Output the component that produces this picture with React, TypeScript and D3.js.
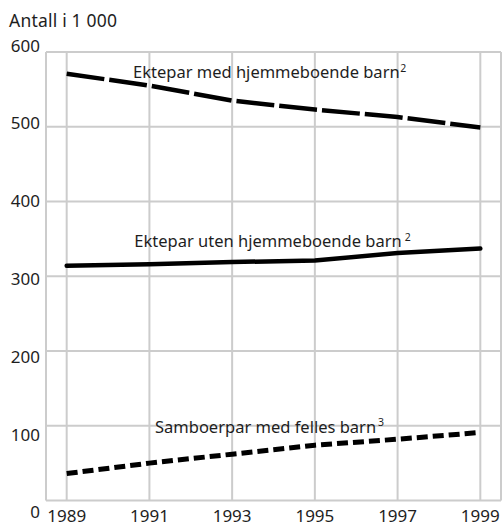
import React from "react";
import * as d3 from "d3";

const years = [1989, 1991, 1993, 1995, 1997, 1999];
const ekteparMed = [571, 555, 535, 523, 513, 499];
const ekteparUten = [314, 316, 319, 321, 331, 337];
const samboer = [36, 50, 62, 74, 82, 91];
const yTicks = [0, 100, 200, 300, 400, 500, 600];
const xTicks = [1989, 1991, 1993, 1995, 1997, 1999];
const yTitle = "Antall i 1 000";

const W = 504;
const H = 523;
const FONT = "'Noto Sans', 'Open Sans', sans-serif";

export default function App() {
  const x = d3.scaleLinear().domain([1988.5, 1999.5]).range([46, 501]);
  const y = d3.scaleLinear().domain([0, 600]).range([500.5, 52]);
  const yLab = d3.scaleLinear().domain([0, 600]).range([518.3, 51.7]);

  const line = d3
    .line<number>()
    .x((_, i) => x(years[i]))
    .y((d) => y(d))
    .curve(d3.curveLinear);

  const grid = "#cccccc";
  const ink = "#1e1e1e";

  return (
    <svg
      width={W}
      height={H}
      style={{ position: "absolute", left: 0, top: 0, background: "#fff" }}
      fontFamily={FONT}
    >
      {/* grid */}
      {yTicks.map((t) => (
        <line key={"h" + t} x1={x(1988.5)} x2={x(1999.5)} y1={y(t)} y2={y(t)} stroke={grid} strokeWidth={2} />
      ))}
      {xTicks.map((t) => (
        <line key={"v" + t} x1={x(t)} x2={x(t)} y1={y(600)} y2={y(0)} stroke={grid} strokeWidth={2} />
      ))}
      <line x1={x(1988.5)} x2={x(1988.5)} y1={y(600)} y2={y(0)} stroke={grid} strokeWidth={2} />
      <line x1={x(1999.5)} x2={x(1999.5)} y1={y(600)} y2={y(0)} stroke={grid} strokeWidth={2} />

      {/* y labels */}
      {yTicks.map((t) => (
        <text key={"yl" + t} x={40} y={yLab(t)} textAnchor="end" fontSize={17} fill={ink}>
          {t}
        </text>
      ))}
      {/* x labels */}
      {xTicks.map((t) => (
        <text key={"xl" + t} x={x(t)} y={521.5} textAnchor="middle" fontSize={17} fill={ink}>
          {t}
        </text>
      ))}
      <text x={9} y={27} fontSize={17.5} fill={ink} textLength={108} lengthAdjust="spacing">
        {yTitle}
      </text>

      {/* lines */}
      <path d={line(ekteparMed) || ""} fill="none" stroke="#000" strokeWidth={4.5} strokeDasharray="38 5" />
      <path d={line(ekteparUten) || ""} fill="none" stroke="#000" strokeWidth={4.5} strokeLinecap="round" />
      <path d={line(samboer) || ""} fill="none" stroke="#000" strokeWidth={5} strokeDasharray="11 5" />

      {/* line labels */}
      <text x={133} y={78.3} fontSize={16.5} fill={ink}>
        Ektepar med hjemmeboende barn
        <tspan fontSize={10.5} dx={0.5} dy={-6.5}>2</tspan>
      </text>
      <text x={134.3} y={247.3} fontSize={16.5} fill={ink}>
        Ektepar uten hjemmeboende barn
        <tspan fontSize={10.5} dx={3} dy={-6.5}>2</tspan>
      </text>
      <text x={155} y={432.7} fontSize={16.5} fill={ink}>
        Samboerpar med felles barn
        <tspan fontSize={10.5} dx={2} dy={-6.5}>3</tspan>
      </text>
    </svg>
  );
}
